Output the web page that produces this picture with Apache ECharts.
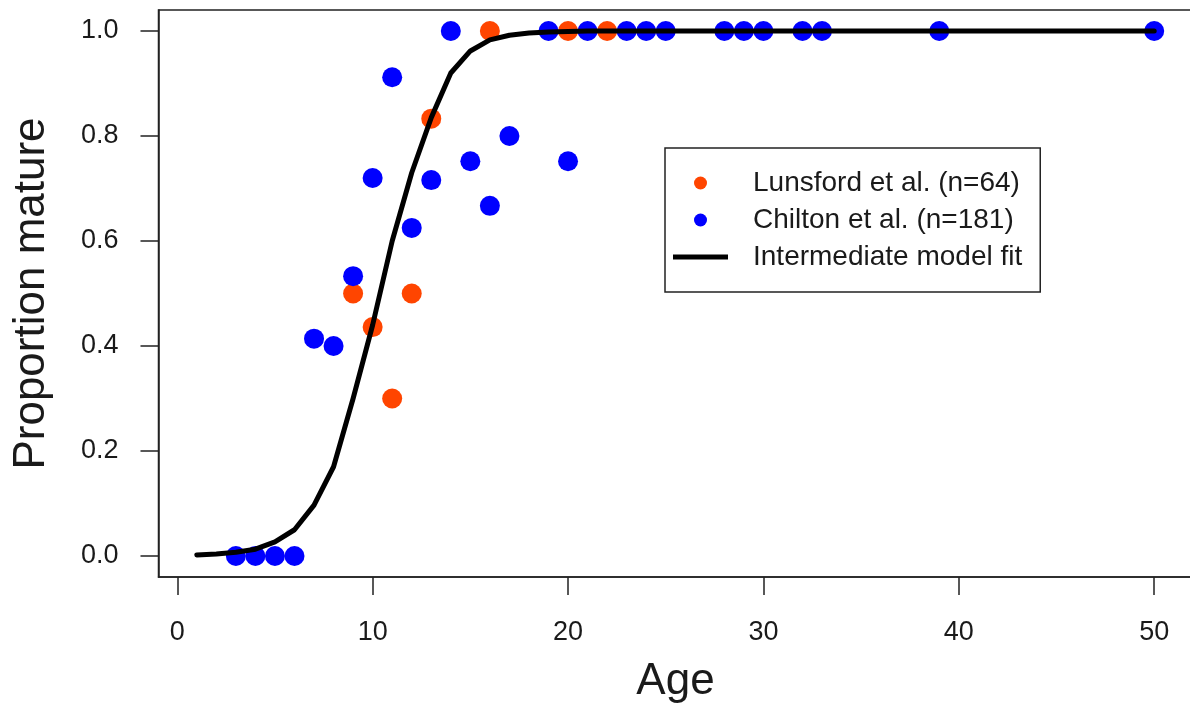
<!DOCTYPE html>
<html>
<head>
<meta charset="utf-8">
<script src="https://cdn.jsdelivr.net/npm/echarts@6/dist/echarts.min.js"></script>
<style>
  html, body { margin: 0; padding: 0; background: #ffffff; }
  #chart { width: 1190px; height: 713px; }
</style>
</head>
<body>
<div id="chart"></div>
<script>
// Fitted maturity curve, one value per year of age (1..50)
const fitAges = [1, 2, 3, 4, 5, 6, 7, 8, 9, 10, 11, 12, 13, 14, 15, 16, 17, 18, 19, 20,
  21, 22, 23, 24, 25, 26, 27, 28, 29, 30, 31, 32, 33, 34, 35, 36, 37, 38, 39, 40,
  41, 42, 43, 44, 45, 46, 47, 48, 49, 50];
const fitValues = [0.002, 0.004, 0.007, 0.013, 0.027, 0.05, 0.097, 0.17, 0.30, 0.44,
  0.60, 0.73, 0.835, 0.92, 0.962, 0.983, 0.992, 0.996, 0.998, 0.999,
  1, 1, 1, 1, 1, 1, 1, 1, 1, 1, 1, 1, 1, 1, 1, 1, 1, 1, 1, 1,
  1, 1, 1, 1, 1, 1, 1, 1, 1, 1];

// Lunsford et al. observed proportions by age
const lunsfordAges = [9, 10, 11, 12, 13, 16, 20, 22];
const lunsfordProp = [0.5, 0.436, 0.3, 0.5, 0.833, 1, 1, 1];

// Chilton et al. observed proportions by age
const chiltonAges = [3, 4, 5, 6, 7, 8, 9, 10, 11, 12, 13, 14, 15, 16, 17, 19, 20, 21,
  23, 24, 25, 28, 29, 30, 32, 33, 39, 50];
const chiltonProp = [0, 0, 0, 0, 0.414, 0.4, 0.533, 0.72, 0.912, 0.625, 0.716, 1, 0.752,
  0.667, 0.8, 1, 0.752, 1, 1, 1, 1, 1, 1, 1, 1, 1, 1, 1];

// Axis ticks
const xTicks = [0, 10, 20, 30, 40, 50];
const yTicks = [0.0, 0.2, 0.4, 0.6, 0.8, 1.0];

// Plot limits: data range padded by 4% on each side
const xLim = [-0.96, 51.96];
const yLim = [-0.04, 1.04];

const seriesNames = ['Lunsford et al. (n=64)', 'Chilton et al. (n=181)', 'Intermediate model fit'];
const FONT = 'Liberation Sans, Arial, Helvetica, sans-serif';
const INK = '#1a1a1a';
const FRAME = '#222222';

const chart = echarts.init(document.getElementById('chart'), null, { renderer: 'canvas' });

const tickStyle = { color: FRAME, width: 1.5 };
const labelFont = { color: INK, fontFamily: FONT, fontSize: 27, lineHeight: 27 };
const titleFont = { color: INK, fontFamily: FONT, fontSize: 44, lineHeight: 44 };

chart.setOption({
  animation: false,
  backgroundColor: '#ffffff',
  grid: {
    left: 158.5, top: 10, width: 1034, height: 567, show: true,
    borderColor: FRAME, borderWidth: 1.5, backgroundColor: 'transparent',
    outerBoundsMode: 'none', containLabel: false
  },
  xAxis: {
    type: 'value', min: xLim[0], max: xLim[1], position: 'bottom',
    axisLine: { show: true, onZero: false, lineStyle: tickStyle },
    axisTick: { show: true, inside: false, length: 18, customValues: xTicks, lineStyle: tickStyle },
    axisLabel: Object.assign({ show: true, margin: 42, customValues: xTicks,
      formatter: v => String(v) }, labelFont),
    splitLine: { show: false },
    name: 'Age', nameLocation: 'middle', nameGap: 83,
    nameTextStyle: titleFont
  },
  yAxis: {
    type: 'value', min: yLim[0], max: yLim[1], position: 'left',
    axisLine: { show: true, onZero: false, lineStyle: tickStyle },
    axisTick: { show: true, inside: false, length: 18, customValues: yTicks, lineStyle: tickStyle },
    axisLabel: Object.assign({ show: true, margin: 40, customValues: yTicks,
      formatter: v => v.toFixed(1) }, labelFont),
    splitLine: { show: false },
    name: 'Proportion mature', nameLocation: 'middle', nameGap: 105,
    nameTextStyle: titleFont
  },
  legend: {
    show: true,
    orient: 'vertical',
    left: 665,
    top: 148,
    itemWidth: 55,
    itemHeight: 13,
    itemGap: 7,
    padding: [20, 18, 20, 8],
    borderColor: FRAME,
    borderWidth: 1.5,
    backgroundColor: '#ffffff',
    selectedMode: false,
    textStyle: { color: INK, fontFamily: FONT, fontSize: 28, lineHeight: 30, padding: [0, 0, 0, 20] },
    data: [
      { name: seriesNames[0], icon: 'circle' },
      { name: seriesNames[1], icon: 'circle' },
      { name: seriesNames[2], icon: 'path://M0,0H55V5H0Z' }
    ]
  },
  series: [
    {
      name: seriesNames[2],
      type: 'line',
      data: fitAges.map((a, i) => [a, fitValues[i]]),
      symbol: 'none',
      smooth: false,
      clip: false,
      lineStyle: { color: '#000000', width: 5, join: 'round', cap: 'round' },
      itemStyle: { color: '#000000' },
      silent: true
    },
    {
      name: seriesNames[0],
      type: 'scatter',
      data: lunsfordAges.map((a, i) => [a, lunsfordProp[i]]),
      symbol: 'circle',
      symbolSize: 20,
      clip: false,
      itemStyle: { color: '#FF4500', opacity: 1 },
      silent: true
    },
    {
      name: seriesNames[1],
      type: 'scatter',
      data: chiltonAges.map((a, i) => [a, chiltonProp[i]]),
      symbol: 'circle',
      symbolSize: 20,
      clip: false,
      itemStyle: { color: '#0000FF', opacity: 1 },
      silent: true
    }
  ]
});
</script>
</body>
</html>
